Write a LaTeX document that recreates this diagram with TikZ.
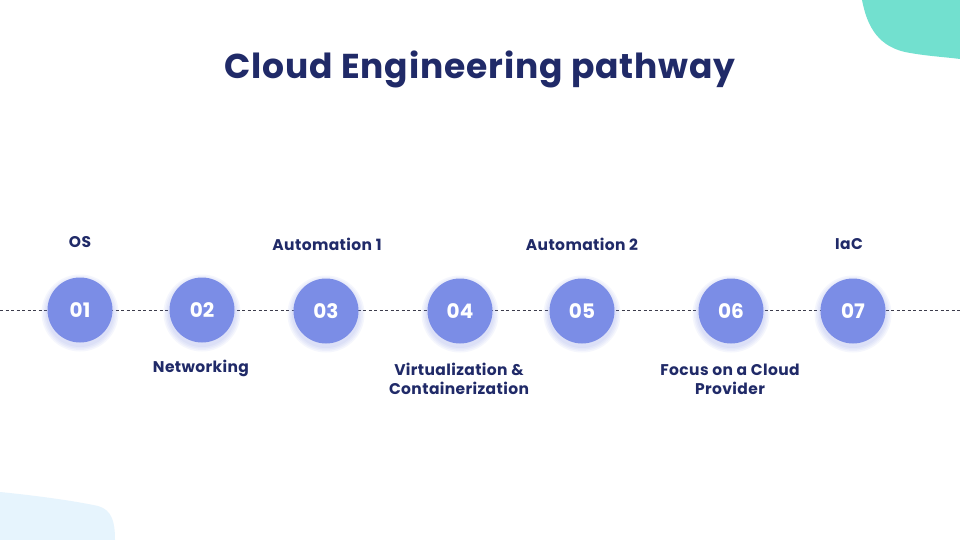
\documentclass[tikz,border=0pt]{standalone}
\usepackage{fontspec}
\setmainfont{Poppins}
\newfontfamily\widefont[LetterSpace=2.5]{Poppins}
\definecolor{navy}{RGB}{32,42,104}
\definecolor{circ}{RGB}{123,141,230}
\definecolor{tealblob}{RGB}{114,224,207}
\definecolor{lblue}{RGB}{230,244,253}
\definecolor{linegray}{RGB}{60,60,75}
\begin{document}
\begin{tikzpicture}[x=1pt,y=-1pt,
  stepcirc/.style={circle,fill=circ,minimum size=65pt,inner sep=0pt,text=white,
    font=\fontsize{20}{20}\selectfont\bfseries},
  lbl/.style={text=navy,font=\widefont\fontsize{15.5}{19}\selectfont\bfseries,align=center}]
\useasboundingbox (0,0) rectangle (960,540);
\fill[white] (0,0) rectangle (960,540);
% blobs
\fill[tealblob] (862,0) .. controls (866,20) and (874,45) .. (905,52) .. controls (925,56) and (945,57) .. (960,59) -- (960,0) -- cycle;
\fill[lblue] (0,492) .. controls (30,495) and (70,500) .. (98,506) .. controls (112,510) and (115,522) .. (115,540) -- (0,540) -- cycle;
% title
\node[text=navy,anchor=base,font=\widefont\fontsize{34.5}{34}\selectfont\bfseries] (title) at (480,79) {Cloud Engineering pathway};
% line
\coordinate (L) at (0,310);
\coordinate (R) at (960,310);
\draw[linegray,line width=0.7pt,dash pattern=on 3pt off 2.5pt] (L) -- (R);
% glow
\foreach \x/\y in {80/310,202/310,326/311,460/311,582/311,731/311,853/311}{
  \foreach \r in {34,35.5,37,38.5}{
    \fill[circ,opacity=0.07] (\x,\y+3) circle[radius=\r];
  }
}
% circles
\node[stepcirc] (c1) at (80,310) {01};
\node[stepcirc] (c2) at (202,310) {02};
\node[stepcirc] (c3) at (326,311) {03};
\node[stepcirc] (c4) at (460,311) {04};
\node[stepcirc] (c5) at (582,311) {05};
\node[stepcirc] (c6) at (731,311) {06};
\node[stepcirc] (c7) at (853,311) {07};
% labels
\node[lbl] (t1) at (80,242) {OS};
\node[lbl] (t3) at (327,244) {Automation 1};
\node[lbl] (t5) at (582,244) {Automation 2};
\node[lbl] (t7) at (849,244) {IaC};
\node[lbl] (t2) at (201,368) {Networking};
\node[lbl] (t4) at (459,379) {Virtualization \&\\Containerization};
\node[lbl] (t6) at (730,379) {Focus on a Cloud\\Provider};
\end{tikzpicture}
\end{document}
